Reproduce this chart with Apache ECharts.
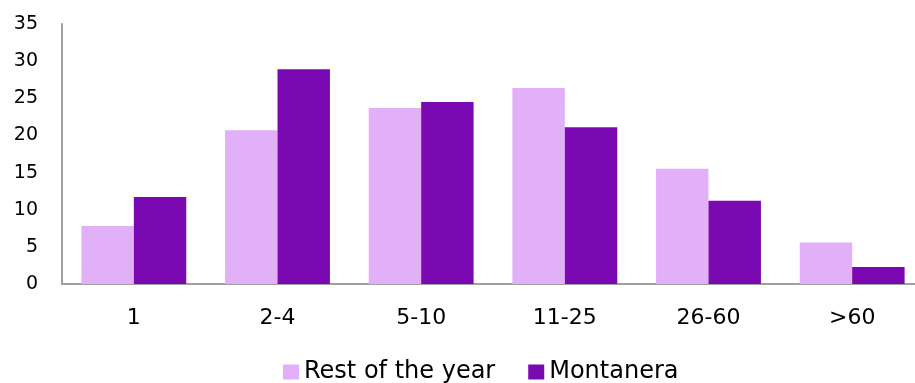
<!DOCTYPE html>
<html>
<head>
<meta charset="utf-8">
<script src="https://cdn.jsdelivr.net/npm/echarts@6/dist/echarts.min.js"></script>
<style>
  html, body { margin: 0; padding: 0; background: #fff; }
  #chart { width: 915px; height: 383px; }
</style>
</head>
<body>
<div id="chart"></div>
<script>
// Herd size classes on the category axis
const categories = ['1', '2-4', '5-10', '11-25', '26-60', '>60'];
// Share (%) per size class for each period
const restOfYear = [7.8, 20.7, 23.7, 26.4, 15.5, 5.6];
const montanera = [11.7, 28.9, 24.5, 21.1, 11.2, 2.3];
const seriesNames = ['Rest of the year', 'Montanera'];

const FONT = '"DejaVu Sans", Verdana, sans-serif';

const chart = echarts.init(document.getElementById('chart'), null, { renderer: 'canvas' });
chart.setOption({
  animation: false,
  backgroundColor: '#ffffff',
  textStyle: { fontFamily: FONT },
  grid: {
    left: 62, top: 24, width: 862, height: 260,
    containLabel: false,
    outerBoundsMode: 'none'
  },
  legend: {
    data: seriesNames,
    left: 278,
    top: 355,
    icon: 'rect',
    itemWidth: 16,
    itemHeight: 15,
    itemGap: 33,
    textStyle: { fontFamily: FONT, fontSize: 24, color: '#000' }
  },
  xAxis: {
    type: 'category',
    data: categories,
    axisLine: { lineStyle: { color: '#a0a0a0', width: 2 } },
    axisTick: { show: false },
    axisLabel: { color: '#000', fontFamily: FONT, fontSize: 22, margin: 23 }
  },
  yAxis: {
    type: 'value',
    min: 0,
    max: 35,
    interval: 5,
    axisLine: { show: true, lineStyle: { color: '#a0a0a0', width: 2 } },
    axisTick: { show: false },
    splitLine: { show: false },
    axisLabel: { color: '#000', fontFamily: FONT, fontSize: 19, margin: 24 }
  },
  series: [
    {
      name: seriesNames[0],
      type: 'bar',
      data: restOfYear,
      barGap: '0%',
      barCategoryGap: '27%',
      itemStyle: { color: '#e2b0f9' }
    },
    {
      name: seriesNames[1],
      type: 'bar',
      data: montanera,
      barGap: '0%',
      barCategoryGap: '27%',
      itemStyle: { color: '#7b09b1' }
    }
  ]
});
</script>
</body>
</html>
